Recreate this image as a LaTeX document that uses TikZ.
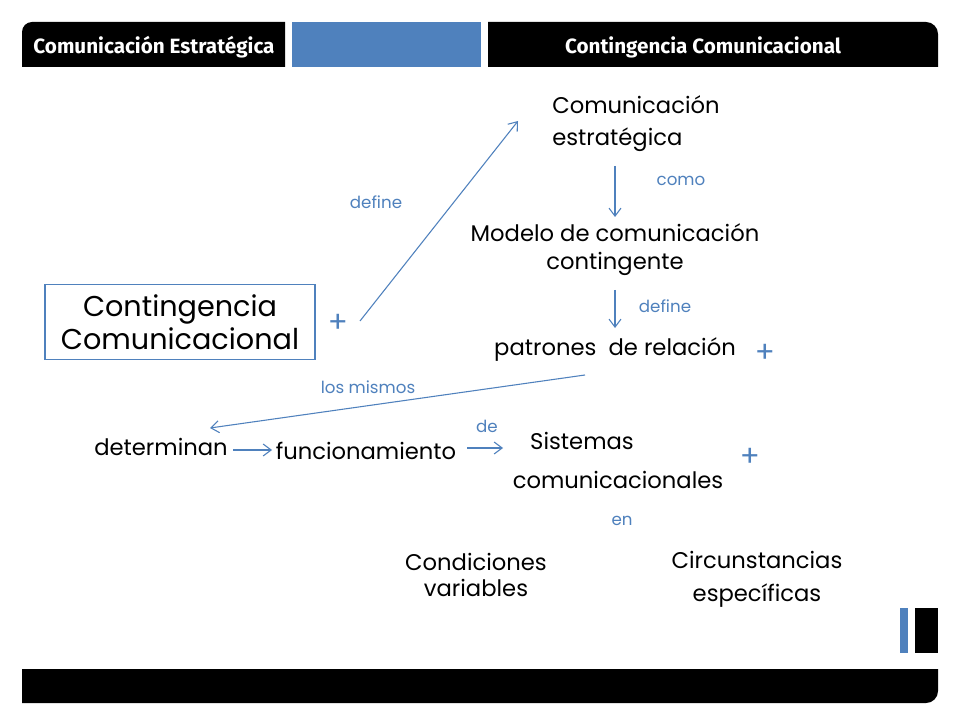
\documentclass[tikz,border=0pt]{standalone}
\usepackage{fontspec}
\setmainfont{Poppins}
\newfontfamily\headfont{Fira Sans}
\usetikzlibrary{arrows.meta}
\definecolor{obl}{HTML}{4F81BD}
\tikzset{
  tx/.style={font=\fontsize{17}{20}\selectfont, text=black, inner sep=0pt, align=center},
  lb/.style={font=\fontsize{12.5}{14}\selectfont, text=obl, inner sep=0pt},
  plus/.style={font=\fontsize{22}{24}\selectfont, text=obl, inner sep=0pt},
  conn/.style={draw=obl, line width=0.8pt, -{Straight Barb[length=6pt,width=9pt]}},
  hd/.style={font=\headfont\bfseries\fontsize{15.5}{17}\selectfont, text=white, inner sep=0pt}
}
\begin{document}
\begin{tikzpicture}[x=0.75pt,y=-0.75pt]
\useasboundingbox (0,0) rectangle (960,720);
\fill[white] (0,0) rectangle (960,720);
% header
\fill[black] (22,67) -- (22,32) arc[start angle=180,end angle=270,radius=10] -- (285,22) -- (285,67) -- cycle;
\fill[obl] (292,22) rectangle (481,67);
\fill[black] (488,67) -- (488,22) -- (926,22) arc[start angle=-90,end angle=0,radius=12] -- (938,67) -- cycle;
\node[hd] (h1) at (154,47) {Comunicación Estratégica};
\node[hd] (h2) at (703,47) {Contingencia Comunicacional};
% footer
\fill[black] (22,669) -- (938,669) -- (938,691) arc[start angle=0,end angle=90,radius=12] -- (22,703) -- cycle;
\fill[obl] (900,608) rectangle (908,653);
\fill[black] (915,608) rectangle (938,653);
% box
\node[draw=obl, line width=0.8pt, minimum width=270*0.75pt, minimum height=75*0.75pt, inner sep=0pt, align=center,
  font=\fontsize{21.5}{25}\selectfont] (cc) at (180,322) {Contingencia\\Comunicacional};
% texts
\node[tx, anchor=west] (ce1) at (552,105) {Comunicación};
\node[tx, anchor=west] (ce2) at (552,140) {estratégica};
\node[tx] (mod1) at (615,233) {Modelo de comunicación};
\node[tx] (mod2) at (615,264) {contingente};
\node[tx] (pat) at (615,350) {patrones\ \ de relación};
\node[tx] (det) at (161,447) {determinan};
\node[tx] (fun) at (366,451) {funcionamiento};
\node[tx] (sis1) at (582,441) {Sistemas};
\node[tx] (sis2) at (618,480) {comunicacionales};
\node[tx] (con1) at (476,562) {Condiciones};
\node[tx] (con2) at (476,588) {variables};
\node[tx] (cir1) at (757,560) {Circunstancias};
\node[tx] (cir2) at (757,596) {específicas};
% labels
\node[lb] (l1) at (376,202) {define};
\node[lb] (l2) at (681,181) {como};
\node[lb] (l3) at (665,306) {define};
\node[lb] (l4) at (368,387) {los mismos};
\node[lb] (l5) at (487,426) {de};
\node[lb] (l6) at (622,521) {en};
% plus
\node[plus] (p1) at (338,323) {+};
\node[plus] (p2) at (765,353) {+};
\node[plus] (p3) at (750,457) {+};
% connector ends
\coordinate (a1s) at (360,321);
\coordinate (a1e) at (518,121);
\coordinate (a2s) at (615,166);
\coordinate (a2e) at (615,217);
\coordinate (a3s) at (615,290);
\coordinate (a3e) at (615,328);
\coordinate (a4s) at (585,375);
\coordinate (a4e) at (210,428);
\coordinate (a5s) at (233,450);
\coordinate (a5e) at (272,450);
\coordinate (a6s) at (467,448);
\coordinate (a6e) at (503,448);
\draw[conn] (a1s) -- (a1e);
\draw[conn] (a2s) -- (a2e);
\draw[conn] (a3s) -- (a3e);
\draw[conn] (a4s) -- (a4e);
\draw[conn] (a5s) -- (a5e);
\draw[conn] (a6s) -- (a6e);
\end{tikzpicture}
\end{document}
